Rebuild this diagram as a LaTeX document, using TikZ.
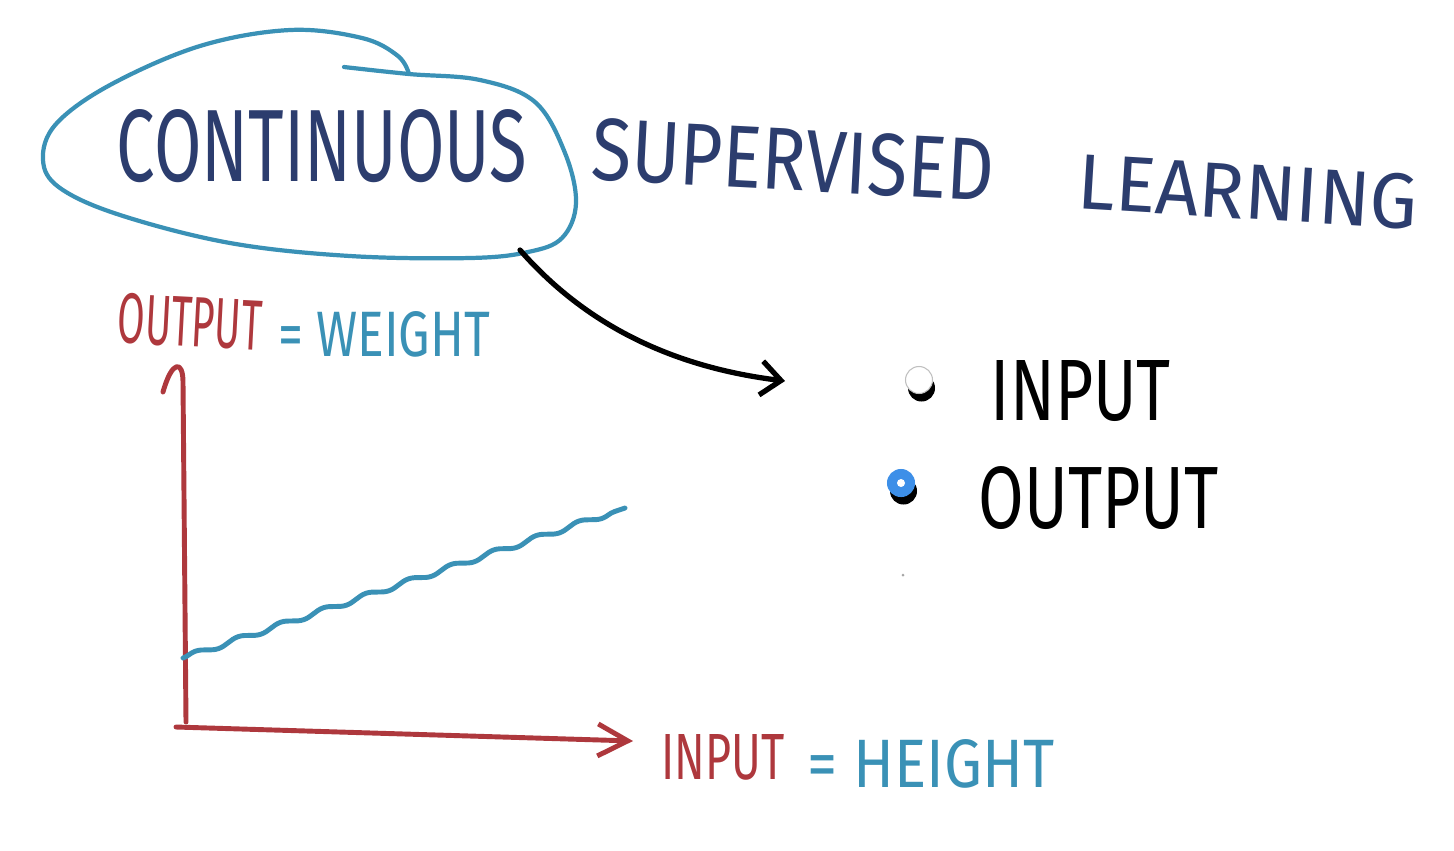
\documentclass[tikz,border=0pt]{standalone}
\usepackage{fontspec}
\setsansfont{Fira Sans}
\usetikzlibrary{arrows.meta,decorations.pathmorphing,shadows}
\definecolor{inknavy}{HTML}{2C3D6E}
\definecolor{penteal}{HTML}{3A91B6}
\definecolor{penred}{HTML}{AE383D}
\definecolor{radioblue}{HTML}{3D8FE8}
\newcommand{\fitword}[3]{\resizebox{#1}{#2}{\sffamily #3}}

\begin{document}
\begin{tikzpicture}[x=0.1mm, y=-0.1mm, line cap=round, line join=round,
    every node/.style={inner sep=0pt},
    pen/.style={line width=1.2pt},
    axis/.style={pen, draw=penred, line width=1.4pt},
    radio/.style={circle, minimum size=2.7mm, draw=black!25, line width=0.3pt,
        drop shadow={shadow xshift=0.25mm, shadow yshift=-0.8mm, opacity=1, fill=black}}]
    \useasboundingbox[fill=white] (0,0) rectangle (1454,850);
    % title
    \draw[pen, penteal] plot[smooth, tension=0.6] coordinates {(344,67) (409,74) (480,80)
        (535,102) (565,153) (576,203) (562,238) (528,252) (470,258) (350,256)
        (230,243) (120,215) (60,188) (43,160) (56,124) (110,85) (200,46)
        (290,30) (362,38) (398,56) (409,74)};
    \node[text=inknavy] (continuous) at (322,146) {\fitword{4.1cm}{0.72cm}{CONTINUOUS}};
    \node[text=inknavy, rotate=-3] (supervised) at (793,160) {\fitword{4.03cm}{0.62cm}{SUPERVISED}};
    \node[text=inknavy, rotate=-3.5] (learning) at (1248,192) {\fitword{3.4cm}{0.55cm}{LEARNING}};
    % pointer to the choices
    \coordinate (blobexit) at (520,250);
    \coordinate (choices) at (785,381);
    \draw[line width=1.5pt, -{Straight Barb[length=2mm, width=3.4mm, line width=1.5pt]}]
        (blobexit) .. controls (590,330) and (680,368) .. (choices);
    % radio buttons
    \node[radio, fill=white] (radioin) at (919,380) {};
    \node[radio, fill=radioblue, draw=radioblue] (radioout) at (901,483) {};
    \fill[white] (radioout) circle (4);
    \node[anchor=west] (inputopt) at (990,391) {\fitword{1.8cm}{0.6cm}{INPUT}};
    \node[anchor=west] (outputopt) at (978,498) {\fitword{2.4cm}{0.62cm}{OUTPUT}};
    \fill[black!35] (903,575) circle (1.5);
    % axes
    \coordinate (ybase) at (186,722);
    \coordinate (ytop) at (183,382);
    \coordinate (yhook) at (163,392);
    \coordinate (xbase) at (176,727);
    \coordinate (xend) at (633,741);
    \draw[axis] (ybase) -- (ytop) .. controls (183,360) and (172,360) .. (yhook);
    \draw[axis, -{Straight Barb[length=3mm, width=3.2mm, line width=1.4pt]}] (xbase) -- (xend);
    \node[text=penred, rotate=-3] (outlabel) at (190,322) {\fitword{1.44cm}{0.5cm}{OUTPUT}};
    \node[text=penteal] (weight) at (384,334) {\fitword{2.12cm}{0.45cm}{= WEIGHT}};
    \node[text=penred] (inlabel) at (723,757) {\fitword{1.23cm}{0.45cm}{INPUT}};
    \node[text=penteal] (height) at (931,764) {\fitword{2.47cm}{0.48cm}{= HEIGHT}};
    % data trend
    \coordinate (fitstart) at (183,658);
    \coordinate (fitend) at (625,508);
    \draw[pen, penteal, line width=1.4pt, decorate,
        decoration={snake, amplitude=0.25mm, segment length=4.5mm}] (fitstart) -- (fitend);
\end{tikzpicture}
\end{document}
